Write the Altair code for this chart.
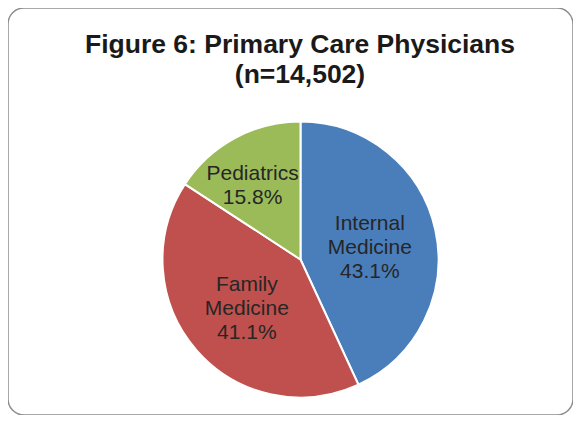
import altair as alt
import pandas as pd

categories = ["Internal Medicine", "Family Medicine", "Pediatrics"]
label_lines = [["Internal", "Medicine"], ["Family", "Medicine"], ["Pediatrics"]]
shares = [43.1, 41.1, 15.8]
colors = ["#4A7EBB", "#C0504D", "#9BBB59"]
title_lines = ["Figure 6: Primary Care Physicians", "(n=14,502)"]

df = pd.DataFrame({
    "category": categories,
    "share": shares,
    "order": list(range(len(categories))),
    "label": ["\n".join(l + [f"{v:.1f}%"]) for l, v in zip(label_lines, shares)],
})

CX, CY, R = 292.5, 251.5, 138

pie = alt.Chart(df).mark_arc(outerRadius=R, stroke="white", strokeWidth=2).encode(
    theta=alt.Theta("share:Q", stack=True),
    order=alt.Order("order:Q"),
    x=alt.value(CX),
    y=alt.value(CY),
    color=alt.Color("category:N", scale=alt.Scale(domain=categories, range=colors), legend=None),
)

font = "Liberation Sans"
LH = 24
txt_kw = dict(font=font, fontSize=21, color="#262626", lineBreak="\n", lineHeight=LH,
              align="center", baseline="middle")

text_base = alt.Chart(df).transform_window(
    cum="sum(share)", sort=[alt.SortField("order")], frame=[None, 0]
).transform_joinaggregate(
    total="sum(share)"
).transform_calculate(
    mid="(datum.cum - datum.share / 2) / datum.total"
).encode(
    theta=alt.Theta("mid:Q", stack=None, scale=alt.Scale(domain=[0, 1])),
    x=alt.value(CX),
    y=alt.value(CY),
    text="label:N",
)

labels_main = text_base.mark_text(radius=71, dy=-LH + 3.5, **txt_kw).transform_filter(
    alt.datum.category != "Pediatrics")
labels_ped = text_base.mark_text(radius=88, dy=-LH / 2 + 3.5, dx=-6, **txt_kw).transform_filter(
    alt.datum.category == "Pediatrics")

title = alt.Chart(pd.DataFrame({"t": [0]})).mark_text(
    text=title_lines, font=font, fontSize=26.5, fontWeight="bold", color="#1a1a1a",
    lineHeight=30, align="center", baseline="alphabetic"
).encode(x=alt.value(292), y=alt.value(45))

chart = alt.layer(pie, labels_main, labels_ped, title).resolve_scale(
    theta="independent"
).properties(
    width=565, height=407, padding=0
).configure_view(stroke="#8c8c8c", strokeWidth=1.5, cornerRadius=16)

chart.save("out.html", embed_options={"renderer": "svg", "actions": False})
